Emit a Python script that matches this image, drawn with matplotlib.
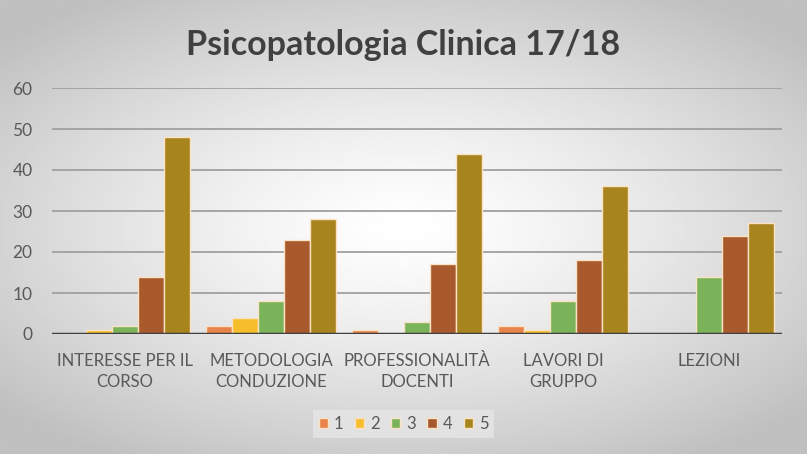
import matplotlib
matplotlib.use("Agg")
import matplotlib.pyplot as plt
import numpy as np

categories = ["INTERESSE PER IL\nCORSO", "METODOLOGIA\nCONDUZIONE", "PROFESSIONALITÀ\nDOCENTI",
              "LAVORI DI\nGRUPPO", "LEZIONI"]
series_names = ["1", "2", "3", "4", "5"]
vals_1 = [0, 2, 1, 2, 0]
vals_2 = [1, 4, 0, 1, 0]
vals_3 = [2, 8, 3, 8, 14]
vals_4 = [14, 23, 17, 18, 24]
vals_5 = [48, 28, 44, 36, 27]
colors = ["#E8844A", "#F5BE2A", "#7AB35A", "#A85A2C", "#A8841E"]

plt.rcParams['font.family'] = ['Lato', 'DejaVu Sans']

fig = plt.figure(figsize=(8.07, 4.54), dpi=100)

# radial gray background
bg = fig.add_axes([0, 0, 1, 1], zorder=-10)
yy, xx = np.mgrid[-1:1:300j, -1:1:500j]
r = np.sqrt((xx / 1.0) ** 2 + (yy / 0.9) ** 2)
bg.imshow(1 - 0.25 * np.clip(r / 1.35, 0, 1) ** 1.3, cmap="gray", vmin=0, vmax=1,
          aspect="auto", extent=[0, 1, 0, 1])
bg.axis("off")

ax = fig.add_axes([52 / 807, 1 - 334 / 454, 730 / 807, 246 / 454])
ax.patch.set_alpha(0)

x = np.arange(len(categories))
w = 0.178
all_vals = [vals_1, vals_2, vals_3, vals_4, vals_5]
for i, (v, c, n) in enumerate(zip(all_vals, colors, series_names)):
    ax.bar(x + (i - 2) * w, v, w * 0.97, color=c, edgecolor="#FCE2C4", linewidth=1.0,
           label=n, zorder=3)

ax.set_xlim(-0.5, 4.5)
ax.set_ylim(0, 60)
ax.set_yticks(range(0, 61, 10))
ax.yaxis.grid(True, color="#A0A0A0", linewidth=1.3, zorder=0)
ax.axhline(0, color="#404040", linewidth=2.5, zorder=4)
for s in ax.spines.values():
    s.set_visible(False)
ax.tick_params(length=0)
ax.tick_params(axis="y", labelsize=12.5, labelcolor="#595959", pad=14)
ax.set_xticks(x)
ax.set_xticklabels(categories, fontsize=12, color="#595959", linespacing=1.35)
ax.tick_params(axis="x", pad=14)

fig.text(0.5, 0.9, "Psicopatologia Clinica 17/18", ha="center", va="center",
         fontsize=24.5, fontweight="bold", color="#404040")

leg = fig.legend(loc="center", bbox_to_anchor=(0.5, 1 - 424 / 454), ncol=5, frameon=True,
                 fontsize=12, handlelength=0.55, handleheight=0.55, handletextpad=0.35,
                 columnspacing=0.7, borderpad=0.35, fancybox=False)
leg.get_frame().set_facecolor("#E6E6E6")
leg.get_frame().set_edgecolor("none")
leg.get_frame().set_alpha(0.8)
for t in leg.get_texts():
    t.set_color("#595959")

fig.savefig("out.png", dpi=100)
